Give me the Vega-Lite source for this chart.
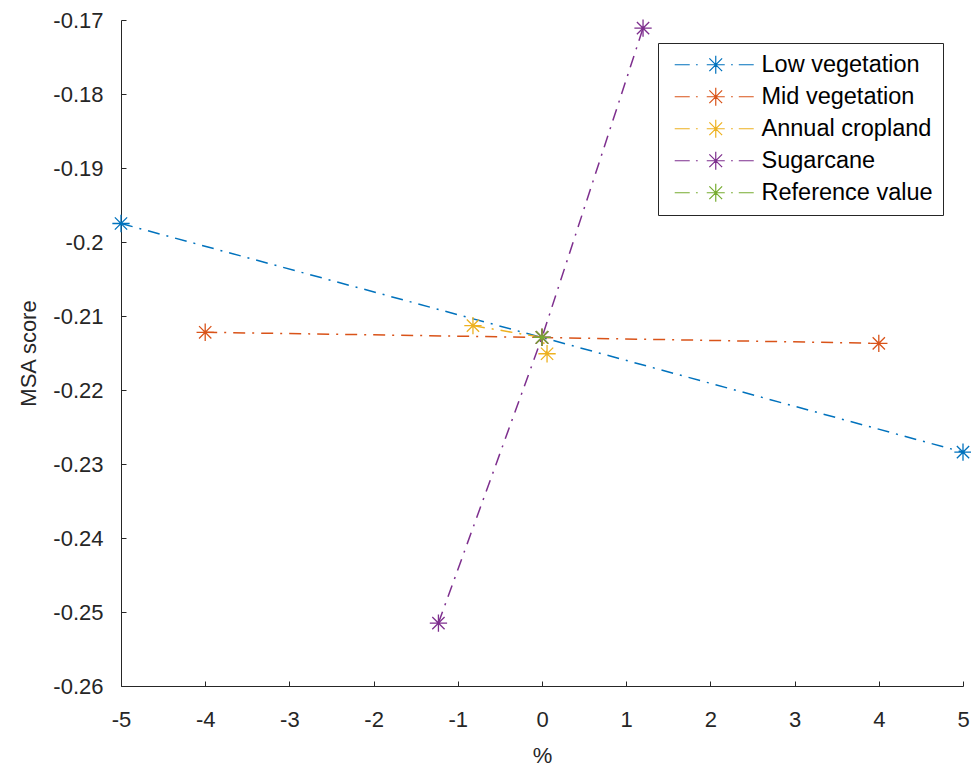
{
  "$schema": "https://vega.github.io/schema/vega-lite/v6.json",
  "width": 842,
  "height": 666,
  "autosize": "none",
  "padding": {"left": 121, "top": 20, "right": 8, "bottom": 81},
  "background": "white",
  "config": {"view": {"stroke": null}, "font": "Liberation Sans"},
  "data": {
    "values": [
      {"series": "Low vegetation", "pct": -5, "msa": -0.1975},
      {"series": "Low vegetation", "pct": 0, "msa": -0.2129},
      {"series": "Low vegetation", "pct": 5, "msa": -0.2284},
      {"series": "Mid vegetation", "pct": -4, "msa": -0.2122},
      {"series": "Mid vegetation", "pct": 0, "msa": -0.2129},
      {"series": "Mid vegetation", "pct": 4, "msa": -0.2137},
      {"series": "Annual cropland", "pct": -0.82, "msa": -0.2113},
      {"series": "Annual cropland", "pct": 0, "msa": -0.2129},
      {"series": "Annual cropland", "pct": 0.06, "msa": -0.2151},
      {"series": "Sugarcane", "pct": -1.23, "msa": -0.2515},
      {"series": "Sugarcane", "pct": 0, "msa": -0.2129},
      {"series": "Sugarcane", "pct": 1.2, "msa": -0.1711},
      {"series": "Reference value", "pct": 0, "msa": -0.2129}
    ]
  },
  "encoding": {
    "x": {
      "field": "pct",
      "type": "quantitative",
      "scale": {"domain": [-5, 5], "nice": false, "zero": false},
      "axis": {
        "title": "%",
        "values": [-5, -4, -3, -2, -1, 0, 1, 2, 3, 4, 5],
        "labelExpr": "replace(datum.label, '\u2212', '-')",
        "grid": false,
        "tickSize": -5,
        "labelPadding": 28,
        "labelFlush": false,
        "labelOverlap": false,
        "domainColor": "#262626",
        "tickColor": "#262626",
        "labelColor": "#262626",
        "titleColor": "#262626",
        "labelFontSize": 22,
        "titleFontSize": 22,
        "titleFontWeight": "normal",
        "titlePadding": 15,
        "encode": {"ticks": {"update": {"y2": {"value": -5}}}}
      }
    },
    "y": {
      "field": "msa",
      "type": "quantitative",
      "scale": {"domain": [-0.26, -0.17], "nice": false, "zero": false},
      "axis": {
        "title": "MSA score",
        "values": [-0.26, -0.25, -0.24, -0.23, -0.22, -0.21, -0.2, -0.19, -0.18, -0.17],
        "format": "~g",
        "labelExpr": "replace(datum.label, '\u2212', '-')",
        "grid": false,
        "tickSize": -5,
        "labelPadding": 23,
        "labelFlush": false,
        "labelOverlap": false,
        "domainColor": "#262626",
        "tickColor": "#262626",
        "labelColor": "#262626",
        "titleColor": "#262626",
        "labelFontSize": 22,
        "titleFontSize": 22,
        "titleFontWeight": "normal",
        "titlePadding": 12,
        "encode": {"ticks": {"update": {"x2": {"value": 5}}}}
      }
    }
  },
  "resolve": {"legend": {"color": "independent"}},
  "layer": [
    {
      "mark": {"type": "line", "strokeDash": [12, 7, 2, 7], "strokeWidth": 1.5},
      "encoding": {
        "color": {
          "field": "series",
          "type": "nominal",
          "scale": {
            "domain": ["Low vegetation", "Mid vegetation", "Annual cropland", "Sugarcane", "Reference value"],
            "range": ["#0072BD", "#D95319", "#EDB120", "#7E2F8E", "#77AC30"]
          },
          "legend": null
        }
      }
    },
    {
      "mark": {
        "type": "point",
        "shape": "M-1,0L1,0M0,-1L0,1M-0.71,-0.71L0.71,0.71M-0.71,0.71L0.71,-0.71",
        "filled": false,
        "size": 300,
        "strokeWidth": 1.3,
        "opacity": 1
      },
      "encoding": {
        "color": {
          "field": "series",
          "type": "nominal",
          "scale": {
            "domain": ["Low vegetation", "Mid vegetation", "Annual cropland", "Sugarcane", "Reference value"],
            "range": ["#0072BD", "#D95319", "#EDB120", "#7E2F8E", "#77AC30"]
          },
          "legend": {
            "orient": "none",
            "legendX": 537,
            "legendY": 23,
            "title": null,
            "symbolType": "M-0.56,0L1.11,0M1.8,0L2.0,0M3,0L5,0M4,-1L4,1M3.29,-0.71L4.71,0.71M3.29,0.71L4.71,-0.71M5.7,0L5.9,0M6.56,0L8.22,0",
            "symbolSize": 324,
            "symbolStrokeWidth": 1.2,
            "symbolOpacity": 1,
            "labelFontSize": 23.5,
            "labelLimit": 400,
            "labelColor": "#000000",
            "labelOffset": 70,
            "padding": 10,
            "rowPadding": 7,
            "strokeColor": "#262626",
            "fillColor": "white"
          }
        }
      }
    }
  ]
}
